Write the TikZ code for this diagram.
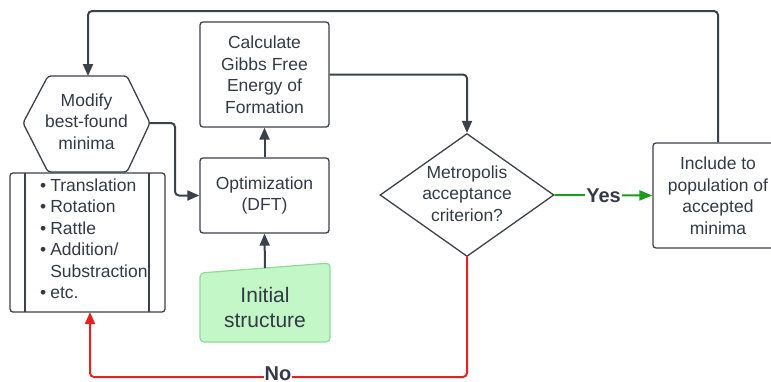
\documentclass[tikz,border=0pt]{standalone}
\usepackage{fontspec}
\setmainfont{Liberation Sans}
\usetikzlibrary{arrows.meta,shapes.geometric,calc}
\definecolor{ink}{HTML}{3A414A}
\definecolor{txt}{HTML}{333A45}
\definecolor{noRed}{HTML}{E52222}
\definecolor{yesGreen}{HTML}{1E9A1E}
\definecolor{initFill}{HTML}{C3F7C8}
\definecolor{initDraw}{HTML}{8DDC96}
\begin{document}
\begin{tikzpicture}[x=1pt,y=-1pt,
  txtfont/.style={font=\fontsize{17.5}{21.5}\selectfont},
  box/.style={draw=ink, line width=1.3pt, rounded corners=3pt, text=txt, align=center, txtfont, inner sep=0pt},
  plain/.style={text=txt, align=center, txtfont, inner sep=0pt},
  conn/.style={draw=ink, line width=2pt, rounded corners=4pt, -{Triangle[length=12pt,width=10pt]}},
  lab/.style={fill=white, text=txt, font=\fontsize{20}{24}\selectfont\bfseries, inner sep=1pt}]
\useasboundingbox (0,0) rectangle (771,381);
\clip (0,0) rectangle (771,381);

% boxes
\node[box, minimum width=129pt, minimum height=105pt] (calc) at (264.5,74.5) {Calculate\\Gibbs Free\\Energy of\\Formation};
\node[box, minimum width=129pt, minimum height=75pt] (opt) at (264.5,195.5) {Optimization\\(DFT)};
\node[box, minimum width=130pt, minimum height=105pt] (incl) at (718,195.5) {Include to\\population of\\accepted\\minima};

% diamond
\node[diamond, draw=ink, line width=1.3pt, minimum width=174pt, minimum height=123pt, inner sep=0pt] (dia) at (467,195) {};
\node[plain] (diat) at (467,193.5) {Metropolis\\acceptance\\criterion?};

% hexagon
\draw[draw=ink, line width=1.3pt, rounded corners=3pt] (48,76) -- (127,76) -- (150,123) -- (127,172) -- (48,172) -- (23,123) -- cycle;
\node[plain] (hex) at (86.5,121.5) {Modify\\best-found\\minima};
\coordinate (hexN) at (88,76);
\coordinate (hexE) at (150,123);

% list box
\node[draw=ink, line width=1.3pt, rounded corners=3pt, minimum width=155pt, minimum height=139pt, inner sep=0pt] (list) at (87.5,242.5) {};
\draw[draw=ink, line width=1.3pt] (25,173) -- (25,312) (149,173) -- (149,312);
\node[plain, anchor=west, align=left] (listt) at (40,240.5) {\begin{tabular}{@{}l@{\hspace{4pt}}l@{}}
\textbullet & Translation\\
\textbullet & Rotation\\
\textbullet & Rattle\\
\textbullet & Addition/\\
 & Substraction\\
\textbullet & etc.
\end{tabular}};
\coordinate (listS) at (90,312);

% initial structure
\draw[draw=initDraw, fill=initFill, line width=1.2pt, rounded corners=4pt] (200,273) -- (330,263) -- (330,342) -- (200,342) -- cycle;
\node[text=txt, align=center, inner sep=0pt, font=\fontsize{21}{25.5}\selectfont] (init) at (265,307.5) {Initial\\structure};
\coordinate (initN) at (265,268);

% helper levels
\coordinate (top) at (0,11);
\coordinate (bot) at (0,377);

% connectors
\draw[conn] (incl.north) -- (incl.north |- top) -- (hexN |- top) -- (hexN);
\draw[conn] (hexE) -- ++(25,0) |- (opt.west);
\draw[conn] (initN) -- (opt.south);
\draw[conn] (opt.north) -- (calc.south);
\draw[conn] (calc.east) -| (dia.north);
\draw[conn, draw=yesGreen, -{Triangle[length=13pt,width=10pt]}] (dia.east) -- (incl.west);
\node[lab] (yes) at ($(dia.east)!0.5!(incl.west)$) {Yes};
\draw[conn, draw=noRed] (dia.south) -- (dia.south |- bot) -- (listS |- bot) -- (listS);
\node[lab] (no) at (278,374) {No};
\end{tikzpicture}
\end{document}
